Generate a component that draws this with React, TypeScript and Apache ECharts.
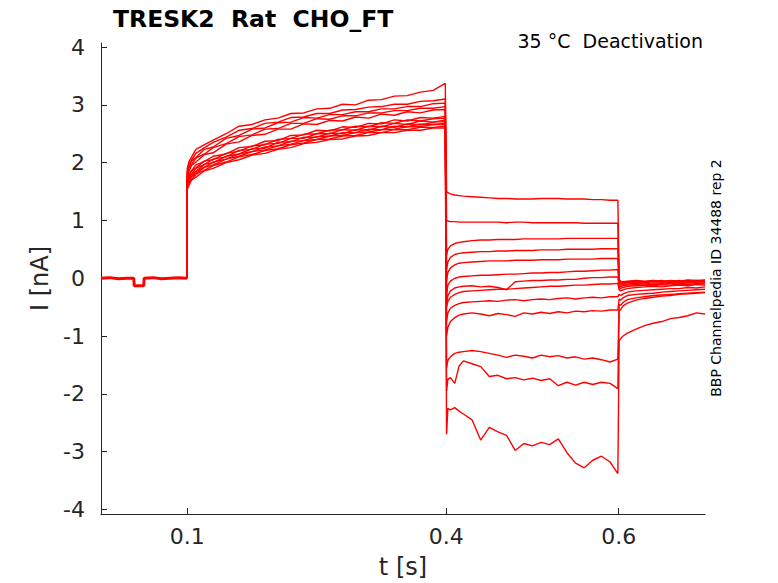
import React, { useEffect, useRef } from 'react';
import * as echarts from 'echarts';

// holding period, shared by every sweep
const baseTime = [0, 0.01, 0.02, 0.03, 0.038, 0.0385, 0.0495, 0.05, 0.06, 0.07, 0.08, 0.09, 0.0995];
const baseValues = [0.0, 0.01, -0.01, 0.0, 0.0, -0.13, -0.13, 0.0, 0.01, -0.01, 0.0, 0.01, 0.0];

// activation step 0.1 - 0.4 s
const actTime = [0.1, 0.102, 0.105, 0.11, 0.12, 0.13, 0.145, 0.16, 0.175, 0.19, 0.205, 0.22, 0.235, 0.25, 0.265, 0.28, 0.295, 0.31, 0.325, 0.34, 0.355, 0.37, 0.385, 0.399];
const act0 = [1.90, 2.02, 2.10, 2.23, 2.31, 2.39, 2.50, 2.63, 2.66, 2.74, 2.77, 2.85, 2.86, 2.93, 2.94, 3.01, 3.00, 3.08, 3.09, 3.15, 3.16, 3.22, 3.25, 3.37];
const act1 = [1.85, 1.97, 2.05, 2.16, 2.26, 2.35, 2.44, 2.56, 2.59, 2.68, 2.70, 2.78, 2.79, 2.85, 2.85, 2.91, 2.92, 2.96, 2.97, 3.01, 3.01, 3.06, 3.07, 3.10];
const act2 = [1.83, 1.92, 2.03, 2.09, 2.23, 2.27, 2.42, 2.47, 2.58, 2.60, 2.69, 2.70, 2.78, 2.77, 2.83, 2.83, 2.88, 2.88, 2.93, 2.93, 2.97, 2.97, 3.02, 3.03];
const act3 = [1.80, 1.91, 1.97, 2.08, 2.15, 2.26, 2.33, 2.45, 2.48, 2.58, 2.59, 2.68, 2.68, 2.76, 2.75, 2.81, 2.81, 2.86, 2.86, 2.90, 2.90, 2.94, 2.94, 2.97];
const act4 = [1.76, 1.85, 1.95, 2.01, 2.14, 2.17, 2.32, 2.36, 2.47, 2.49, 2.58, 2.58, 2.67, 2.66, 2.73, 2.72, 2.79, 2.77, 2.84, 2.82, 2.88, 2.86, 2.91, 2.92];
const act5 = [1.72, 1.81, 1.86, 1.96, 2.02, 2.11, 2.15, 2.26, 2.28, 2.37, 2.38, 2.47, 2.48, 2.56, 2.55, 2.62, 2.61, 2.68, 2.67, 2.74, 2.72, 2.78, 2.77, 2.80];
const act6 = [1.70, 1.77, 1.86, 1.91, 2.03, 2.05, 2.16, 2.20, 2.29, 2.31, 2.40, 2.42, 2.49, 2.50, 2.56, 2.57, 2.63, 2.62, 2.69, 2.68, 2.74, 2.72, 2.76, 2.77];
const act7 = [1.67, 1.76, 1.81, 1.90, 1.97, 2.06, 2.10, 2.21, 2.23, 2.32, 2.33, 2.42, 2.42, 2.50, 2.50, 2.57, 2.56, 2.63, 2.62, 2.68, 2.66, 2.72, 2.70, 2.74];
const act8 = [1.64, 1.71, 1.80, 1.85, 1.97, 2.00, 2.11, 2.15, 2.24, 2.25, 2.35, 2.36, 2.44, 2.44, 2.51, 2.50, 2.57, 2.56, 2.63, 2.61, 2.67, 2.65, 2.70, 2.71];
const act9 = [1.62, 1.71, 1.76, 1.85, 1.92, 2.01, 2.06, 2.15, 2.19, 2.27, 2.29, 2.37, 2.38, 2.45, 2.46, 2.52, 2.52, 2.58, 2.57, 2.63, 2.62, 2.67, 2.66, 2.68];
const act10 = [1.60, 1.67, 1.76, 1.81, 1.92, 1.96, 2.06, 2.11, 2.19, 2.22, 2.29, 2.32, 2.38, 2.40, 2.46, 2.47, 2.52, 2.53, 2.57, 2.58, 2.62, 2.62, 2.66, 2.66];
const act11 = [1.57, 1.66, 1.71, 1.80, 1.87, 1.95, 2.01, 2.10, 2.14, 2.21, 2.24, 2.31, 2.34, 2.40, 2.41, 2.46, 2.47, 2.52, 2.52, 2.57, 2.57, 2.61, 2.61, 2.63];
const act12 = [1.54, 1.61, 1.70, 1.75, 1.86, 1.90, 2.00, 2.05, 2.13, 2.16, 2.23, 2.26, 2.33, 2.35, 2.40, 2.41, 2.46, 2.47, 2.52, 2.52, 2.56, 2.56, 2.60, 2.60];

// deactivation tails 0.4 - 0.6 s
const tailTime = [0.4005, 0.402, 0.405, 0.41, 0.415, 0.42, 0.43, 0.44, 0.45, 0.46, 0.47, 0.48, 0.49, 0.5, 0.51, 0.52, 0.53, 0.54, 0.55, 0.56, 0.57, 0.58, 0.59, 0.599];
const tail0 = [1.50, 1.48, 1.46, 1.44, 1.43, 1.42, 1.41, 1.40, 1.39, 1.38, 1.38, 1.37, 1.37, 1.37, 1.38, 1.38, 1.38, 1.37, 1.37, 1.37, 1.36, 1.36, 1.35, 1.35];
const tail1 = [1.00, 0.99, 0.98, 0.98, 0.97, 0.97, 0.97, 0.97, 0.97, 0.97, 0.96, 0.97, 0.97, 0.96, 0.96, 0.96, 0.96, 0.96, 0.96, 0.95, 0.95, 0.95, 0.95, 0.95];
const tail2 = [0.40, 0.50, 0.56, 0.60, 0.62, 0.63, 0.65, 0.66, 0.66, 0.67, 0.67, 0.67, 0.68, 0.68, 0.68, 0.68, 0.68, 0.69, 0.69, 0.69, 0.69, 0.69, 0.69, 0.69];
const tail3 = [0.15, 0.28, 0.36, 0.41, 0.43, 0.44, 0.45, 0.46, 0.46, 0.47, 0.47, 0.48, 0.48, 0.48, 0.49, 0.49, 0.49, 0.50, 0.50, 0.50, 0.50, 0.51, 0.51, 0.51];
const tail4 = [-0.05, 0.10, 0.18, 0.23, 0.26, 0.27, 0.28, 0.29, 0.30, 0.30, 0.30, 0.31, 0.31, 0.31, 0.32, 0.32, 0.32, 0.33, 0.33, 0.33, 0.33, 0.34, 0.34, 0.34];
const tail5 = [-0.30, -0.12, -0.05, 0.00, 0.02, 0.03, 0.04, 0.05, 0.05, 0.06, 0.07, 0.07, 0.08, 0.09, 0.09, 0.10, 0.10, 0.11, 0.12, 0.12, 0.13, 0.14, 0.14, 0.15];
const tail6 = [-0.45, -0.30, -0.22, -0.17, -0.15, -0.14, -0.13, -0.15, -0.14, -0.16, -0.20, -0.06, -0.05, -0.04, -0.04, -0.03, -0.03, -0.02, -0.02, 0.00, 0.01, 0.01, 0.02, 0.02];
const tail7 = [-0.50, -0.40, -0.33, -0.28, -0.25, -0.23, -0.22, -0.21, -0.20, -0.19, -0.19, -0.18, -0.17, -0.16, -0.15, -0.14, -0.14, -0.13, -0.12, -0.12, -0.11, -0.10, -0.10, -0.09];
const tail8 = [-0.75, -0.60, -0.52, -0.47, -0.44, -0.42, -0.41, -0.40, -0.39, -0.40, -0.38, -0.37, -0.39, -0.37, -0.36, -0.37, -0.35, -0.34, -0.36, -0.34, -0.33, -0.34, -0.32, -0.32];
const tail9 = [-1.00, -0.85, -0.75, -0.68, -0.64, -0.62, -0.60, -0.62, -0.65, -0.61, -0.63, -0.66, -0.60, -0.62, -0.59, -0.61, -0.58, -0.60, -0.57, -0.58, -0.56, -0.57, -0.55, -0.55];
const tail10 = [-1.55, -1.42, -1.36, -1.30, -1.28, -1.27, -1.25, -1.27, -1.30, -1.33, -1.37, -1.33, -1.35, -1.38, -1.33, -1.36, -1.34, -1.38, -1.36, -1.40, -1.38, -1.41, -1.45, -1.40];
const tail11 = [-1.95, -1.75, -1.72, -1.82, -1.52, -1.43, -1.48, -1.53, -1.70, -1.68, -1.74, -1.72, -1.76, -1.73, -1.77, -1.74, -1.86, -1.80, -1.85, -1.80, -1.84, -1.80, -1.82, -1.91];
const tail12 = [-2.70, -2.25, -2.28, -2.24, -2.30, -2.35, -2.45, -2.80, -2.58, -2.66, -2.72, -2.98, -2.86, -2.90, -2.84, -2.88, -2.78, -3.02, -3.20, -3.28, -3.15, -3.08, -3.18, -3.38];

// return to holding 0.6 - 0.7 s
const postTime = [0.6005, 0.602, 0.605, 0.61, 0.62, 0.63, 0.64, 0.65, 0.66, 0.67, 0.68, 0.69, 0.7];
const post0 = [-0.02, -0.05, -0.06, -0.05, -0.04, -0.05, -0.04, -0.06, -0.04, -0.05, -0.03, -0.04, -0.03];
const post1 = [-0.04, -0.06, -0.07, -0.06, -0.05, -0.06, -0.05, -0.04, -0.06, -0.04, -0.05, -0.04, -0.05];
const post2 = [-0.06, -0.08, -0.08, -0.07, -0.06, -0.07, -0.05, -0.06, -0.05, -0.07, -0.05, -0.06, -0.04];
const post3 = [-0.08, -0.10, -0.09, -0.08, -0.07, -0.08, -0.06, -0.07, -0.06, -0.05, -0.07, -0.05, -0.06];
const post4 = [-0.10, -0.12, -0.11, -0.10, -0.09, -0.10, -0.08, -0.09, -0.07, -0.08, -0.06, -0.07, -0.06];
const post5 = [-0.14, -0.15, -0.13, -0.12, -0.11, -0.12, -0.10, -0.11, -0.09, -0.10, -0.08, -0.09, -0.08];
const post6 = [-0.16, -0.18, -0.16, -0.14, -0.13, -0.12, -0.13, -0.11, -0.12, -0.10, -0.11, -0.09, -0.10];
const post7 = [-0.20, -0.22, -0.20, -0.18, -0.16, -0.15, -0.14, -0.15, -0.13, -0.12, -0.13, -0.11, -0.12];
const post8 = [-0.28, -0.30, -0.27, -0.24, -0.22, -0.21, -0.20, -0.19, -0.18, -0.18, -0.16, -0.17, -0.15];
const post9 = [-0.36, -0.38, -0.34, -0.30, -0.28, -0.27, -0.26, -0.24, -0.23, -0.22, -0.21, -0.20, -0.19];
const post10 = [-0.45, -0.47, -0.42, -0.37, -0.34, -0.32, -0.30, -0.29, -0.28, -0.27, -0.26, -0.25, -0.24];
const post11 = [-0.56, -0.55, -0.48, -0.43, -0.38, -0.35, -0.33, -0.31, -0.30, -0.28, -0.27, -0.26, -0.25];
const post12 = [-1.08, -1.05, -1.00, -0.95, -0.88, -0.82, -0.78, -0.75, -0.70, -0.68, -0.65, -0.60, -0.62];

const activations = [act0, act1, act2, act3, act4, act5, act6, act7, act8, act9, act10, act11, act12];
const tails = [tail0, tail1, tail2, tail3, tail4, tail5, tail6, tail7, tail8, tail9, tail10, tail11, tail12];
const posts = [post0, post1, post2, post3, post4, post5, post6, post7, post8, post9, post10, post11, post12];

const xTicks = [0.1, 0.4, 0.6];
const yTicks = [-4, -3, -2, -1, 0, 1, 2, 3, 4];

const RED = '#ff0000';
const AXIS = '#262626';
const FONT = '"DejaVu Sans", sans-serif';

const zip = (t: number[], v: number[]) => t.map((x, i) => [x, v[i]]);

const App: React.FC = () => {
  const chartRef = useRef<HTMLDivElement>(null);

  useEffect(() => {
    if (!chartRef.current) return;
    const chart = echarts.init(chartRef.current, undefined, { renderer: 'svg' });

    const sweeps = activations.map((act, k) => ({
      type: 'line',
      name: 'sweep ' + (k + 1),
      showSymbol: false,
      data: [
        [baseTime[baseTime.length - 1], baseValues[baseValues.length - 1]],
        ...zip(actTime, act),
        ...zip(tailTime, tails[k]),
        ...zip(postTime, posts[k]),
      ],
      lineStyle: { color: RED, width: 1.4 },
      itemStyle: { color: RED },
    }));

    const option = {
      animation: false,
      grid: { left: 101, right: 73, top: 43, bottom: 69, outerBoundsMode: 'none' },
      xAxis: {
        type: 'value',
        min: 0,
        max: 0.7,
        name: 't [s]',
        nameLocation: 'middle',
        nameGap: 41,
        nameTextStyle: { fontFamily: FONT, fontSize: 24, color: AXIS },
        axisLine: { onZero: false, lineStyle: { color: AXIS, width: 1 } },
        axisTick: { inside: true, length: 6, customValues: xTicks, lineStyle: { color: AXIS } },
        axisLabel: { customValues: xTicks, fontFamily: FONT, fontSize: 22, color: AXIS, margin: 11 },
        splitLine: { show: false },
      },
      yAxis: {
        type: 'value',
        min: -4.08,
        max: 4.07,
        name: 'I [nA]',
        nameLocation: 'middle',
        nameGap: 40,
        nameTextStyle: { fontFamily: FONT, fontSize: 24, color: AXIS },
        axisLine: { show: true, onZero: false, lineStyle: { color: AXIS, width: 1 } },
        axisTick: { show: true, inside: true, length: 6, customValues: yTicks, lineStyle: { color: AXIS } },
        axisLabel: { customValues: yTicks, fontFamily: FONT, fontSize: 22, color: AXIS, margin: 16 },
        splitLine: { show: false },
      },
      graphic: [
        {
          type: 'text',
          x: 113,
          y: 19,
          style: {
            text: 'TRESK2  Rat  CHO_FT',
            font: 'bold 23.5px "DejaVu Sans", sans-serif',
            fill: '#000',
            textVerticalAlign: 'middle',
          },
        },
        {
          type: 'text',
          x: 703,
          y: 41,
          style: {
            text: '35 °C  Deactivation',
            font: '19px "DejaVu Sans", sans-serif',
            fill: '#000',
            textAlign: 'right',
            textVerticalAlign: 'middle',
          },
        },
        {
          type: 'text',
          x: 716,
          y: 278,
          rotation: Math.PI / 2,
          style: {
            text: 'BBP Channelpedia ID 34488 rep 2',
            font: '14px "DejaVu Sans", sans-serif',
            fill: '#000',
            textAlign: 'center',
            textVerticalAlign: 'middle',
          },
        },
      ],
      series: [
        {
          type: 'line',
          name: 'holding',
          showSymbol: false,
          data: zip(baseTime, baseValues),
          lineStyle: { color: RED, width: 3 },
          itemStyle: { color: RED },
        },
        ...sweeps,
      ],
    };

    chart.setOption(option);

    const handleResize = () => chart.resize();
    window.addEventListener('resize', handleResize);

    return () => {
      window.removeEventListener('resize', handleResize);
      chart.dispose();
    };
  }, []);

  // fixed to the viewport so the plot can use the full page, body margin included
  return (
    <div
      ref={chartRef}
      style={{ position: 'fixed', left: 0, top: 0, width: '778px', height: '583px', background: '#fff' }}
    />
  );
};

export default App;
